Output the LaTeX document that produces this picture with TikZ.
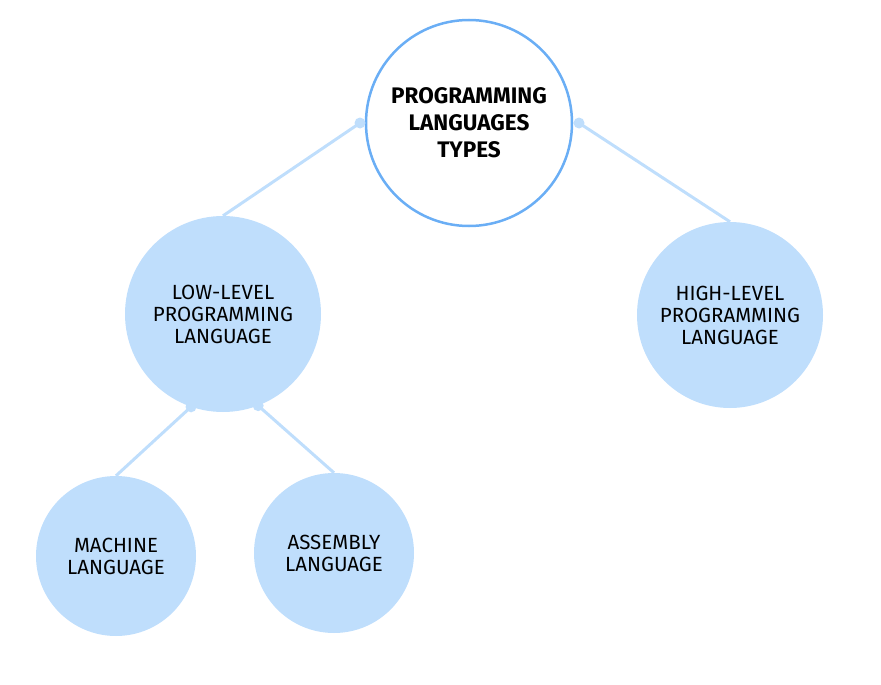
\documentclass[tikz,border=0pt]{standalone}
\usepackage{fontspec}
\setmainfont{Fira Sans}
\definecolor{ringblue}{HTML}{6AAEF5}
\definecolor{fillblue}{HTML}{BFDEFC}
\begin{document}
\begin{tikzpicture}[x=1pt,y=-1pt,
  rootnode/.style={circle,draw=ringblue,line width=2.5pt,fill=white,minimum size=206pt,inner sep=0pt,align=center,font=\fontsize{22.5}{27}\selectfont\bfseries},
  leafnode/.style={circle,fill=fillblue,inner sep=0pt,align=center,font=\fontsize{20.5}{22}\selectfont},
  link/.style={draw=fillblue,line width=3pt},
  knob/.style={circle,fill=fillblue,inner sep=0pt,minimum size=11pt}]
\useasboundingbox (0,0) rectangle (881,685);
\node[leafnode,minimum size=196pt] (low) at (223,314) {LOW-LEVEL\\PROGRAMMING\\LANGUAGE};
\node[leafnode,minimum size=186pt] (high) at (730,315) {HIGH-LEVEL\\PROGRAMMING\\LANGUAGE};
\node[leafnode,minimum size=160pt] (mach) at (116,556) {MACHINE\\LANGUAGE};
\node[leafnode,minimum size=160pt] (asm) at (334,553) {ASSEMBLY\\LANGUAGE};
\coordinate (rl) at (360,123);
\coordinate (rr) at (579,123);
\coordinate (ll) at (low.-109);
\coordinate (lr) at (low.-69);
\draw[link] (rl) -- (low.north);
\draw[link] (rr) -- (high.north);
\draw[link] (ll) -- (mach.north);
\draw[link] (lr) -- (asm.north);
\node[rootnode] (root) at (469,123) {PROGRAMMING\\LANGUAGES\\TYPES};
\node[knob] (k1) at (rl) {};
\node[knob] (k2) at (rr) {};
\node[knob] (k3) at (ll) {};
\node[knob] (k4) at (lr) {};
\end{tikzpicture}
\end{document}
